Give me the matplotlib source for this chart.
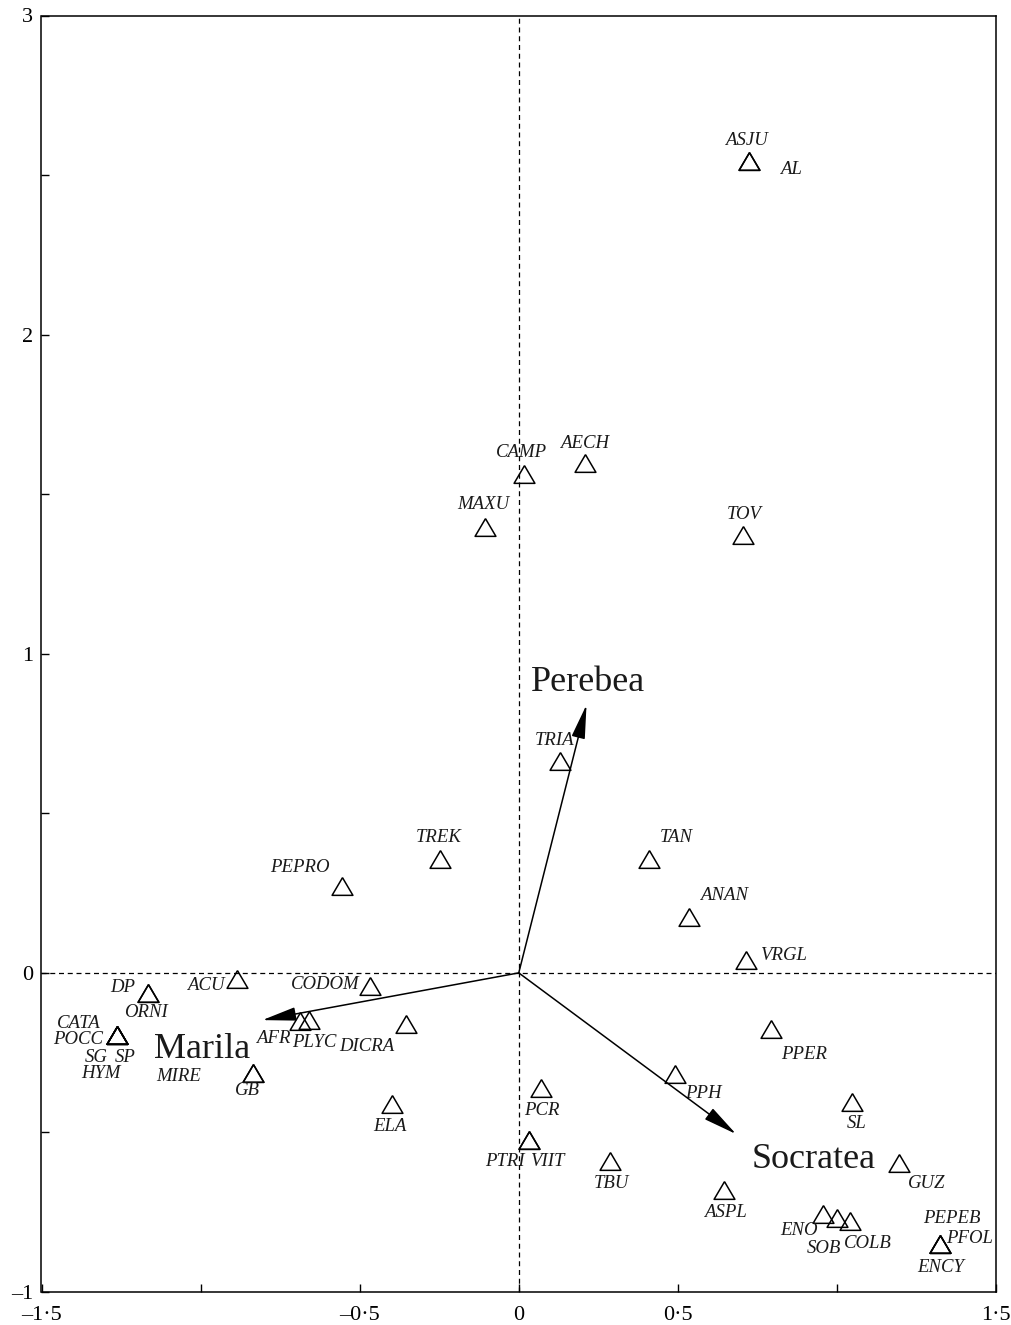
import matplotlib
matplotlib.use('Agg')
import matplotlib.pyplot as plt

plt.rcParams['font.family'] = ['Liberation Serif', 'DejaVu Serif']

# species scores (axis 1, axis 2); species sharing a point repeat its scores
species = ['ASJU', 'AL', 'CAMP', 'AECH', 'MAXU', 'TOV', 'TRIA', 'TREK', 'PEPRO',
           'TAN', 'ANAN', 'VRGL', 'ACU', 'DP', 'ORNI', 'CODOM', 'CATA', 'POCC',
           'SG', 'SP', 'HYM', 'AFR', 'PLYC', 'DICRA', 'GB', 'MIRE', 'ELA', 'PCR',
           'PTRI', 'VIIT', 'TBU', 'PPH', 'PPER', 'SL', 'GUZ', 'ASPL', 'ENO',
           'SOB', 'COLB', 'ENCY', 'PEPEB', 'PFOL']
score_x = [0.724, 0.724, 0.016, 0.207, -0.107, 0.705, 0.129, -0.248, -0.555,
           0.408, 0.536, 0.715, -0.884, -1.166, -1.166, -0.467, -1.263, -1.263,
           -1.263, -1.263, -1.263, -0.687, -0.658, -0.354, -0.834, -0.834, -0.398, 0.069,
           0.031, 0.031, 0.288, 0.492, 0.793, 1.047, 1.194, 0.646, 0.956,
           1.000, 1.041, 1.323, 1.323, 1.323]
score_y = [2.545, 2.545, 1.564, 1.599, 1.398, 1.373, 0.665, 0.357, 0.273,
           0.357, 0.176, 0.041, -0.019, -0.063, -0.063, -0.041, -0.194, -0.194,
           -0.194, -0.194, -0.194, -0.150, -0.147, -0.160, -0.313, -0.313, -0.411, -0.361,
           -0.524, -0.524, -0.589, -0.317, -0.176, -0.404, -0.596, -0.680, -0.755,
           -0.768, -0.777, -0.850, -0.850, -0.850]

# host tree vectors
env_names = ['Perebea', 'Marila', 'Socratea']
env_x = [0.213, -0.806, 0.683]
env_y = [0.840, -0.148, -0.505]

# label offsets from the point, in pixels (right, down)
label_offset = {
    'ASJU': (-3, -20), 'AL': (42, 9), 'CAMP': (-2, -21), 'AECH': (0, -19),
    'MAXU': (-1, -22), 'TOV': (1, -20), 'TRIA': (-5, -20), 'TREK': (-1, -21),
    'PEPRO': (-42, -18), 'TAN': (28, -21), 'ANAN': (35, -21), 'VRGL': (37, -4),
    'ACU': (-32, 7), 'DP': (-25, -5), 'ORNI': (-2, 20), 'CODOM': (-45, -1),
    'CATA': (-38, -11), 'POCC': (-39, 5), 'SG': (-21, 23), 'SP': (8, 23),
    'HYM': (-16, 39), 'AFR': (-27, 18), 'PLYC': (5, 23), 'DICRA': (-39, 23),
    'GB': (-6, 18), 'MIRE': (-75, 4), 'ELA': (-2, 22), 'PCR': (1, 22),
    'PTRI': (-24, 21), 'VIIT': (19, 21), 'TBU': (1, 23), 'PPH': (28, 19),
    'PPER': (33, 25), 'SL': (5, 22), 'GUZ': (28, 20), 'ASPL': (1, 23),
    'ENO': (-24, 17), 'SOB': (-13, 31), 'COLB': (18, 23), 'ENCY': (1, 23),
    'PEPEB': (12, -26), 'PFOL': (30, -6),
}
env_offset = {'Perebea': (2, -22), 'Marila': (-60, 29), 'Socratea': (78, 25)}

PX = 72 / 100  # pixels -> points
ink = '#1a1a1a'

fig = plt.figure(figsize=(10.12, 13.25), dpi=100)
ax = fig.add_axes([41.5 / 1012, 1 - 1292 / 1325, (996 - 41.5) / 1012, (1292 - 15.5) / 1325])

ax.set_xlim(-1.5, 1.5)
ax.set_ylim(-1, 3)

# dashed zero lines
ax.axhline(0, color='black', lw=0.9, ls=(0, (4, 3)), zorder=1)
ax.axvline(0, color='black', lw=0.9, ls=(0, (4, 3)), zorder=1)

# species triangles
tri = [(0, 0.85), (-1, -0.85), (1, -0.85), (0, 0.85)]
ax.plot(score_x, score_y, ls='none', marker=tri, ms=15, mfc='none',
        mec='black', mew=1.1, zorder=3)

for name, x, y in zip(species, score_x, score_y):
    dx, dy = label_offset[name]
    ax.annotate(name, (x, y), xytext=(dx * PX, -dy * PX), textcoords='offset points',
                ha='center', va='center', fontsize=13.5, style='italic', color=ink)

# arrows for host trees
for name, x, y in zip(env_names, env_x, env_y):
    ax.annotate('', xy=(x, y), xytext=(0, 0),
                arrowprops=dict(arrowstyle='-|>,head_length=2.1,head_width=0.42',
                                mutation_scale=10, lw=1.1, color='black',
                                shrinkA=0, shrinkB=0), zorder=4)
    dx, dy = env_offset[name]
    ax.annotate(name, (x, y), xytext=(dx * PX, -dy * PX), textcoords='offset points',
                ha='center', va='center', fontsize=26, color=ink)

# ticks
ax.set_xticks([-1.5, -1, -0.5, 0, 0.5, 1, 1.5])
ax.set_xticklabels(['\u20131\u00b75', '', '\u20130\u00b75', '0', '0\u00b75', '', '1\u00b75'])
ax.set_yticks([-1, -0.5, 0, 0.5, 1, 1.5, 2, 2.5, 3])
ax.set_yticklabels(['\u20131', '', '0', '', '1', '', '2', '', '3'])
ax.tick_params(direction='in', length=6, width=1, labelsize=16, colors='black')
ax.tick_params(axis='x', pad=10)
ax.tick_params(axis='y', pad=6)
for s in ax.spines.values():
    s.set_linewidth(1.1)

fig.savefig('out.png', dpi=100)
